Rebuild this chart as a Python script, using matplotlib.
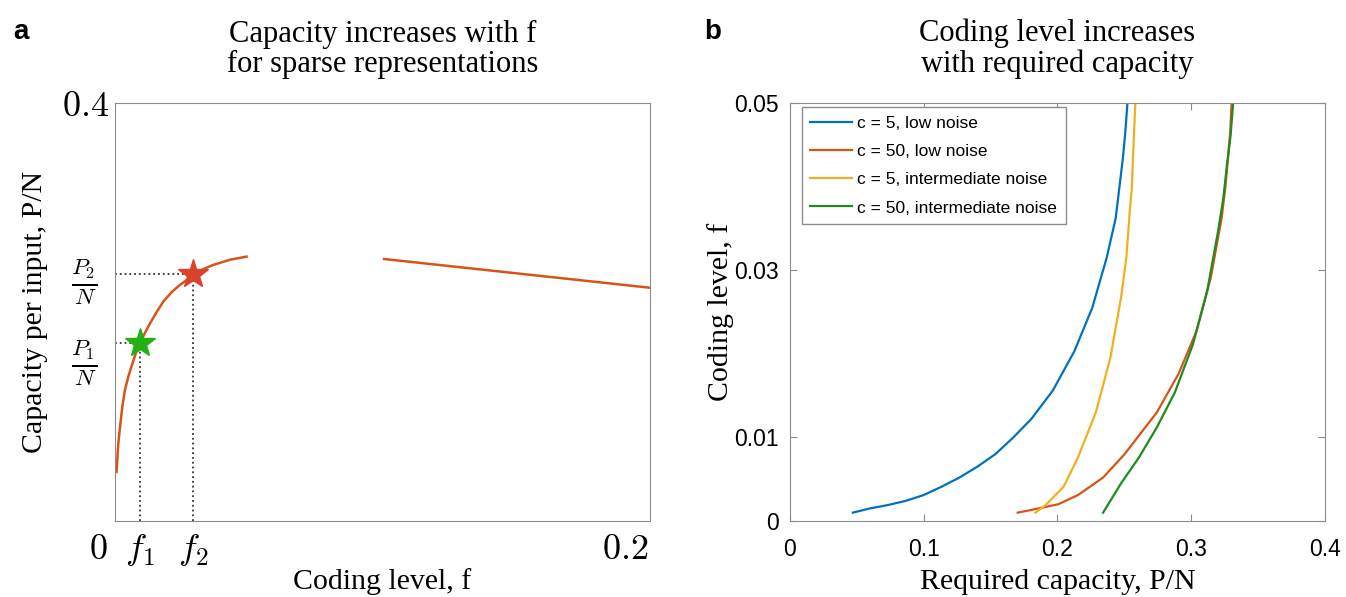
import matplotlib.pyplot as plt
from matplotlib.transforms import ScaledTranslation

plt.rcParams['mathtext.fontset'] = 'cm'

# panel a: capacity vs coding level (schematic)
f_rise = [0.0006, 0.00125, 0.0019, 0.00274, 0.0037, 0.00498, 0.0062, 0.00773, 0.0094, 0.0112,
          0.0131, 0.0156, 0.0181, 0.0212, 0.0243, 0.0293, 0.0330, 0.0367, 0.0430, 0.0492]
cap_rise = [0.047, 0.074, 0.090, 0.109, 0.125, 0.138, 0.148, 0.160, 0.170, 0.180,
            0.189, 0.200, 0.210, 0.219, 0.226, 0.235, 0.241, 0.245, 0.250, 0.253]
f_tail = [0.1006, 0.2]
cap_tail = [0.2507, 0.2232]
f_marks = [0.0094, 0.0293]
p_marks = [0.170, 0.236]
star_colors = ['#22b014', '#d8432a']

# panel b: coding level vs required capacity
blue_x = [0.0470, 0.0596, 0.0730, 0.0864, 0.0999, 0.1133, 0.1267, 0.1401, 0.1536, 0.1670, 0.1804,
          0.1965, 0.2126, 0.2260, 0.2368, 0.2435, 0.2462, 0.2489, 0.2507, 0.2523]
blue_y = [0.0010, 0.0015, 0.0019, 0.0024, 0.0031, 0.0041, 0.0052, 0.0065, 0.0080, 0.0100, 0.0122,
          0.0156, 0.0203, 0.0255, 0.0315, 0.0362, 0.0398, 0.0434, 0.0465, 0.0500]
red_x = [0.1702, 0.1858, 0.2005, 0.2153, 0.2341, 0.2502, 0.2743, 0.2905, 0.3039, 0.3146, 0.3227,
         0.3254, 0.3275, 0.3291, 0.3302]
red_y = [0.0010, 0.0015, 0.0020, 0.0031, 0.0052, 0.0080, 0.0130, 0.0176, 0.0227, 0.0291, 0.0362,
         0.0398, 0.0434, 0.0465, 0.0500]
yellow_x = [0.1836, 0.1911, 0.2046, 0.2153, 0.2287, 0.2395, 0.2475, 0.2515, 0.2542, 0.2556, 0.2564, 0.2582]
yellow_y = [0.0010, 0.0019, 0.0041, 0.0076, 0.0130, 0.0195, 0.0267, 0.0315, 0.0374, 0.0398, 0.0434, 0.0500]
green_x = [0.2341, 0.2475, 0.2609, 0.2743, 0.2878, 0.3012, 0.3119, 0.3200, 0.3240, 0.3267, 0.3294, 0.3313]
green_y = [0.0010, 0.0045, 0.0076, 0.0112, 0.0154, 0.0211, 0.0275, 0.0346, 0.0386, 0.0426, 0.0461, 0.0500]
series = [
    (blue_x, blue_y, '#0072BD', 'c = 5, low noise'),
    (red_x, red_y, '#D95319', 'c = 50, low noise'),
    (yellow_x, yellow_y, '#EDB120', 'c = 5, intermediate noise'),
    (green_x, green_y, '#1f8a1f', 'c = 50, intermediate noise'),
]

serif = 'Liberation Serif'
sans = 'Liberation Sans'
spine_col = '#8c8c8c'

fig = plt.figure(figsize=(13.46, 5.97), dpi=100)
ax1 = fig.add_axes([0.0854, 0.1273, 0.3975, 0.7002])
ax2 = fig.add_axes([0.5869, 0.1273, 0.3975, 0.7002])

def shift(txt, dx_px, dy_px=0):
    txt.set_transform(txt.get_transform() + ScaledTranslation(dx_px / 100, dy_px / 100, fig.dpi_scale_trans))

# ---- panel a
ax1.plot(f_rise, cap_rise, color='#D95319', lw=1.8)
ax1.plot(f_tail, cap_tail, color='#D95319', lw=1.8)
for f, p, c in zip(f_marks, p_marks, star_colors):
    ax1.plot([0, f], [p, p], ls=':', color='#333333', lw=1.3)
    ax1.plot([f, f], [0, p], ls=':', color='#333333', lw=1.3)
    ax1.plot(f, p, marker='*', ms=22, color=c, mec=c, zorder=5)
ax1.set_xlim(0, 0.2)
ax1.set_ylim(0, 0.4)
ax1.tick_params(axis='x', length=0, pad=8)
ax1.tick_params(axis='y', length=0, pad=4)
ax1.set_xticks([0, f_marks[0], f_marks[1], 0.2])
ax1.set_xticklabels([r'$0$', r'$f_1$', r'$f_2$', r'$0.2$'], fontsize=26)
xl = ax1.get_xticklabels()
xl[0].set_ha('right')
xl[3].set_ha('right')
shift(xl[0], -7)
shift(xl[3], -2)
ax1.set_yticks([p_marks[0], p_marks[1], 0.4])
ax1.set_yticklabels([r'$\frac{P_1}{N}$', r'$\frac{P_2}{N}$', r'$0.4$'], fontsize=26)
yl = ax1.get_yticklabels()
for t in yl[:2]:
    t.set_fontsize(24)
shift(yl[0], -12, -12)
shift(yl[1], -12)
for s in ax1.spines.values():
    s.set_color(spine_col)
ax1.set_xlabel('Coding level, f', fontsize=21.5, family=serif, labelpad=0)
ax1.set_ylabel('Capacity per input, P/N', fontsize=21.5, family=serif, labelpad=10)
ax1.set_title('Capacity increases with f\nfor sparse representations', fontsize=22,
              family=serif, linespacing=1.08, pad=22)

# ---- panel b
for x, y, c, lab in series:
    ax2.plot(x, y, color=c, lw=1.6, label=lab)
ax2.set_xlim(0, 0.4)
ax2.set_ylim(0, 0.05)
ax2.set_xticks([0, 0.1, 0.2, 0.3, 0.4])
ax2.set_xticklabels(['0', '0.1', '0.2', '0.3', '0.4'])
ax2.set_yticks([0, 0.01, 0.03, 0.05])
ax2.set_yticklabels(['0', '0.01', '0.03', '0.05'])
ax2.tick_params(direction='in', length=5, color=spine_col, top=True, right=True,
                labelsize=16.5)
ax2.tick_params(axis='x', pad=12)
ax2.tick_params(axis='y', pad=8)
for t in ax2.get_xticklabels() + ax2.get_yticklabels():
    t.set_family(sans)
for s in ax2.spines.values():
    s.set_color(spine_col)
ax2.set_xlabel('Required capacity, P/N', fontsize=21.5, family=serif, labelpad=6)
ax2.set_ylabel('Coding level, f', fontsize=21.5, family=serif, labelpad=0)
ax2.set_title('Coding level increases\nwith required capacity', fontsize=22,
              family=serif, linespacing=1.08, pad=22)
leg = ax2.legend(loc='upper left', bbox_to_anchor=(0.022, 0.99), borderaxespad=0,
                 fancybox=False, edgecolor=spine_col, framealpha=1,
                 prop={'family': sans, 'size': 12.5}, handlelength=2.4,
                 handletextpad=0.3, labelspacing=0.75, borderpad=0.5)
leg.get_frame().set_linewidth(1.0)

fig.text(0.010, 0.935, 'a', fontsize=20, fontweight='bold', family=sans)
fig.text(0.523, 0.935, 'b', fontsize=20, fontweight='bold', family=sans)

fig.savefig('out.png', dpi=100)
